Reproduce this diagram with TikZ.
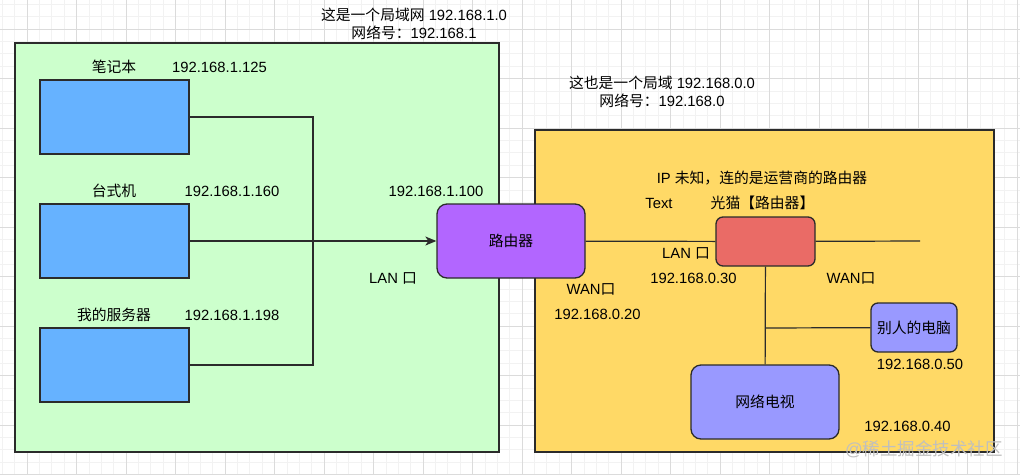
\documentclass[tikz,border=0pt]{standalone}
\usepackage{fontspec}
\setmainfont{Liberation Sans}
\newfontfamily\cjk{Noto Sans CJK SC}
\newcommand{\zh}[1]{{\cjk #1}}
\usetikzlibrary{arrows.meta}
\definecolor{lanfill}{HTML}{CCFFCC}
\definecolor{wanfill}{HTML}{FFD966}
\definecolor{pcfill}{HTML}{66B2FF}
\definecolor{routerfill}{HTML}{B266FF}
\definecolor{modemfill}{HTML}{EA6B66}
\definecolor{devfill}{HTML}{9999FF}
\definecolor{edge}{HTML}{2B2B2B}
\tikzset{
    zone/.style = {rectangle, draw=edge, line width=1.3pt, inner sep=0pt},
    hostbox/.style = {rectangle, draw=edge, line width=1.3pt, fill=pcfill, inner sep=0pt, minimum width=149pt, minimum height=74pt},
    devbox/.style = {rectangle, rounded corners=10pt, draw=edge, line width=1.3pt, inner sep=0pt},
    txt/.style = {inner sep=0pt, align=center},
    wire/.style = {draw=edge, line width=1.2pt},
    wirea/.style = {draw=edge, line width=1.2pt, -{Stealth[length=11pt,width=9pt,inset=3pt]}},
    gridminor/.style = {draw=black!5, line width=0.6pt},
    gridmajor/.style = {draw=black!14, line width=0.8pt},
    every picture/.style={font issue=\fontsize{14.8}{18}\selectfont},
    font issue/.style={execute at begin picture={#1}}
}
\begin{document}
\begin{tikzpicture}[x=1pt, y=-1pt]
  \useasboundingbox (0,0) rectangle (1020,474);
  \fill[white] (0,0) rectangle (1020,474);
  % grid
  \foreach \i in {0,...,82} \draw[gridminor] ({2.25+12.375*\i},0) -- ++(0,474);
  \foreach \i in {0,...,38} \draw[gridminor] (0,{4.25+12.375*\i}) -- ++(1020,0);
  \foreach \i in {0,...,20} \draw[gridmajor] ({27+49.5*\i},0) -- ++(0,474);
  \foreach \i in {0,...,9} \draw[gridmajor] (0,{29+49.5*\i}) -- ++(1020,0);

  % the two networks
  \node[zone, fill=lanfill, minimum width=484pt, minimum height=409pt] (lanzone) at (257,247.5) {};
  \node[zone, fill=wanfill, minimum width=459pt, minimum height=322pt] (wanzone) at (764.5,291) {};

  \node[txt] (lantitle) at (414,24) {\zh{这是一个局域网} 192.168.1.0\\\zh{网络号：}192.168.1};
  \node[txt] (wantitle) at (662,92) {\zh{这也是一个局域} 192.168.0.0\\\zh{网络号：}192.168.0};

  % hosts
  \node[hostbox] (laptop)  at (114.5,117) {};
  \node[hostbox] (desktop) at (114.5,241) {};
  \node[hostbox] (server)  at (114.5,365) {};
  \node[txt] (laptoplbl)  at (114,67)  {\zh{笔记本}};
  \node[txt] (laptopip)   at (219.5,67) {192.168.1.125};
  \node[txt] (desktoplbl) at (114,191) {\zh{台式机}};
  \node[txt] (desktopip)  at (232,191) {192.168.1.160};
  \node[txt] (serverlbl)  at (114,315) {\zh{我的服务器}};
  \node[txt] (serverip)   at (232,315) {192.168.1.198};

  % router, modem and devices
  \node[devbox, fill=routerfill, minimum width=148pt, minimum height=74pt] (router) at (511,241) {\zh{路由器}};
  \node[devbox, rounded corners=7pt, fill=modemfill, minimum width=99pt, minimum height=49pt] (modem) at (765.5,241.5) {};
  \node[devbox, rounded corners=7pt, fill=devfill, minimum width=86pt, minimum height=49pt] (otherpc) at (914,327.5) {\zh{别人的电脑}};
  \node[devbox, fill=devfill, minimum width=148pt, minimum height=74pt] (tv) at (765,402) {\zh{网络电视}};

  \node[txt] (routerip)  at (436,191) {192.168.1.100};
  \node[txt] (lanport)   at (393,278) {LAN \zh{口}};
  \node[txt] (unknown)   at (762,178) {IP \zh{未知，连的是运营商的路由器}};
  \node[txt] (textlbl)   at (659,203) {Text};
  \node[txt] (modemlbl)  at (762.5,203) {\zh{光猫【路由器】}};
  \node[txt] (modemlan)  at (686,253) {LAN \zh{口}};
  \node[txt] (modemip)   at (693.5,278) {192.168.0.30};
  \node[txt] (modemwan)  at (851,278) {WAN\zh{口}};
  \node[txt] (routerwan) at (591,289) {WAN\zh{口}};
  \node[txt] (routerwip) at (597.5,314) {192.168.0.20};
  \node[txt] (otherpcip) at (920,364) {192.168.0.50};
  \node[txt] (tvip)      at (907.5,426) {192.168.0.40};

  \coordinate (bus) at (313,117);
  \coordinate (wanend) at (920,241);
  \coordinate (tee) at (765.5,328);

  % connections
  \draw[wire] (laptop) -- (bus) |- (server);
  \draw[wirea] (desktop) -- (router);
  \draw[wire] (router) -- (modem);
  \draw[wire] (modem) -- (wanend);
  \draw[wire] (modem) -- (tv);
  \draw[wire] (tee) -- (otherpc);

  \node[txt, text=black!25, font=\fontsize{17.5}{20}\selectfont] (watermark) at (924,449) {@\zh{稀土掘金技术社区}};
\end{tikzpicture}
\end{document}
